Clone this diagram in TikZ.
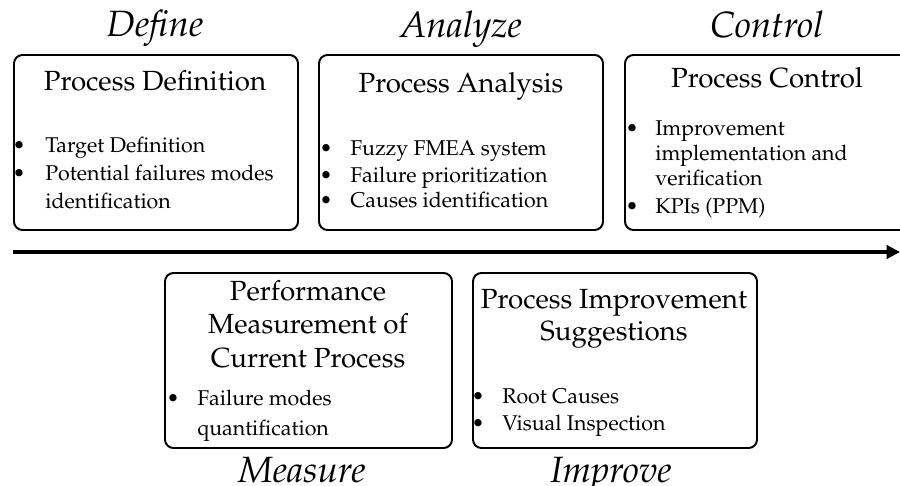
\documentclass[tikz,border=0pt]{standalone}
\usepackage[T1]{fontenc}
\usepackage{mathpazo}
\usetikzlibrary{arrows.meta}
\tikzset{
  phase/.style={draw=black, line width=1.4pt, rounded corners=6pt},
  ttl/.style={inner sep=0pt, anchor=base, font=\fontsize{19.7}{23}\selectfont},
  item/.style={inner sep=0pt, anchor=base west, font=\fontsize{15.2}{18}\selectfont},
  bul/.style={inner sep=0pt, anchor=base, font=\fontsize{15.2}{18}\selectfont},
  stage/.style={inner sep=0pt, anchor=base, font=\fontsize{26}{30}\selectfont\itshape},
}
\begin{document}
\begin{tikzpicture}[x=0.025cm, y=-0.025cm]
\useasboundingbox (0,0) rectangle (900,486);
% boxes
\draw[phase] (14,55) rectangle (298,230) coordinate (b1);
\draw[phase] (319,55) rectangle (603,230) coordinate (b2);
\draw[phase] (625,55) rectangle (912,230) coordinate (b3);
\draw[phase] (165,273) rectangle (452,448) coordinate (b4);
\draw[phase] (473,273) rectangle (757,448) coordinate (b5);
% timeline arrow
\coordinate (tl0) at (13,252);
\coordinate (tl1) at (900,252);
\draw[line width=2.2pt, -{Triangle[length=9.5pt, width=9.5pt]}] (tl0) -- (tl1);
% stage labels
\node[stage] (sD) at (155,37) {Define};
\node[stage] (sA) at (461,38) {Analyze};
\node[stage] (sC) at (767,38) {Control};
\node[stage] (sM) at (302,482) {Measure};
\node[stage] (sI) at (611,482) {Improve};
% box 1
\node[ttl] (t1) at (155,90) {Process Definition};
\node[bul] (d1a) at (19,152) {\textbullet};
\node[item] (i1a) at (45,152) {Target Definition};
\node[bul] (d1b) at (19,180) {\textbullet};
\node[item] (i1b) at (45,180) {Potential failures modes};
\node[item] (i1c) at (45,208) {identification};
% box 2
\node[ttl] (t2) at (461,92) {Process Analysis};
\node[bul] (d2a) at (326,155) {\textbullet};
\node[item] (i2a) at (350,155) {Fuzzy FMEA system};
\node[bul] (d2b) at (326,182) {\textbullet};
\node[item] (i2b) at (350,182) {Failure prioritization};
\node[bul] (d2c) at (326,207) {\textbullet};
\node[item] (i2c) at (350,207) {Causes identification};
% box 3
\node[ttl] (t3) at (767,88) {Process Control};
\node[bul] (d3a) at (632,135) {\textbullet};
\node[item] (i3a) at (655,135) {Improvement};
\node[item] (i3b) at (655,160) {implementation and};
\node[item] (i3c) at (655,185) {verification};
\node[bul] (d3d) at (632,213) {\textbullet};
\node[item] (i3d) at (655,213) {KPIs (PPM)};
% box 4
\node[ttl] (t4a) at (308,300) {Performance};
\node[ttl] (t4b) at (308,333) {Measurement of};
\node[ttl] (t4c) at (308,367) {Current Process};
\node[bul] (d4a) at (173,405) {\textbullet};
\node[item] (i4a) at (197,405) {Failure modes};
\node[item] (i4b) at (197,435) {quantification};
% box 5
\node[ttl] (t5a) at (614,308) {Process Improvement};
\node[ttl] (t5b) at (614,340) {Suggestions};
\node[bul] (d5a) at (478,403) {\textbullet};
\node[item] (i5a) at (502,403) {Root Causes};
\node[bul] (d5b) at (478,430) {\textbullet};
\node[item] (i5b) at (502,430) {Visual Inspection};
\end{tikzpicture}
\end{document}
